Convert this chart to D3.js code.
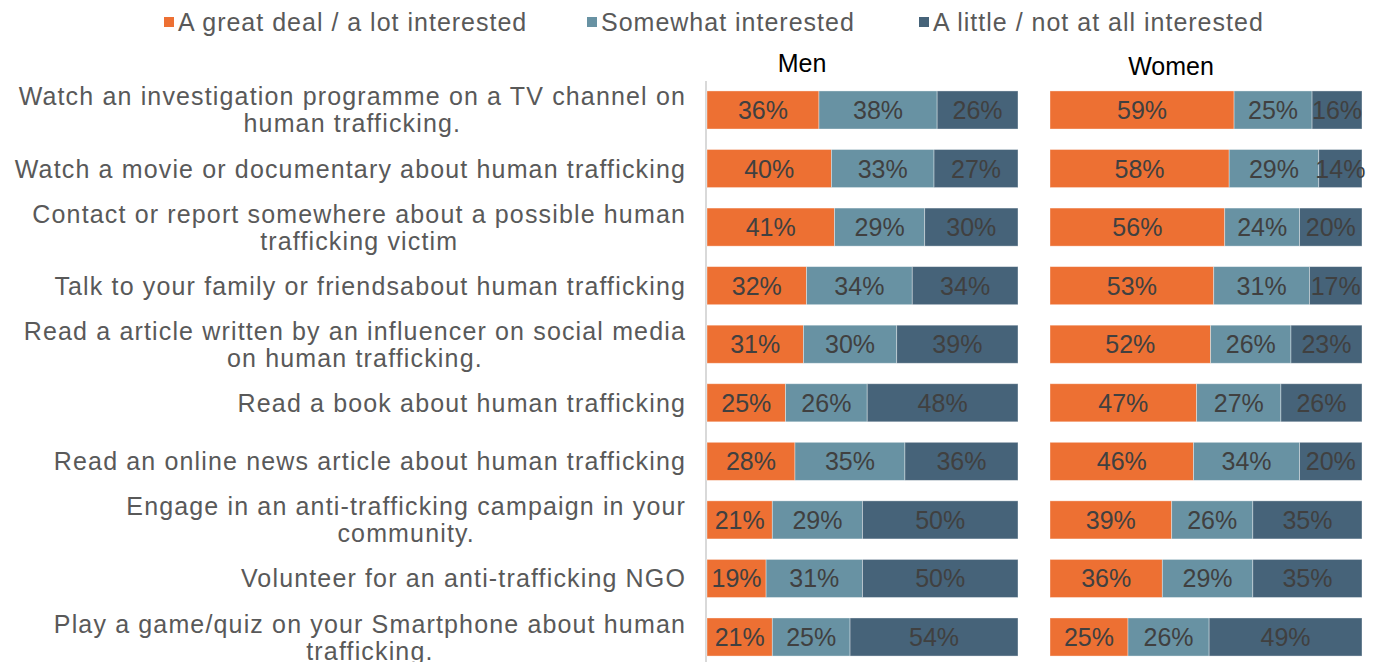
<!DOCTYPE html>
<html>
<head>
<meta charset="utf-8">
<script src="https://cdn.jsdelivr.net/npm/d3@7"></script>
<style>
  html, body { margin: 0; padding: 0; background: #fff; }
  svg { display: block; }
</style>
</head>
<body>
<svg id="chart" width="1375" height="662"></svg>
<script>
// Activities (label lines) in display order
const categories = [
  ["Watch an investigation programme on a TV channel on", "human trafficking."],
  ["Watch a movie or documentary about human trafficking"],
  ["Contact or report somewhere about a possible human", "trafficking victim"],
  ["Talk to your family or friendsabout human trafficking"],
  ["Read a article written by an influencer on social media", "on human trafficking."],
  ["Read a book about human trafficking"],
  ["Read an online news article about human trafficking"],
  ["Engage in an anti-trafficking campaign in your", "community."],
  ["Volunteer for an anti-trafficking NGO"],
  ["Play a game/quiz on your Smartphone about human", "trafficking."]
];

const seriesNames = ["A great deal / a lot interested", "Somewhat interested", "A little / not at all interested"];
const seriesColors = ["#ED7033", "#6892A3", "#466379"];

// Men: [great deal, somewhat, little/not at all] in %
const menGreat    = [36, 40, 41, 32, 31, 25, 28, 21, 19, 21];
const menSomewhat = [38, 33, 29, 34, 30, 26, 35, 29, 31, 25];
const menLittle   = [26, 27, 30, 34, 39, 48, 36, 50, 50, 54];

// Women
const womenGreat    = [59, 58, 56, 53, 52, 47, 46, 39, 36, 25];
const womenSomewhat = [25, 29, 24, 31, 26, 27, 34, 26, 29, 26];
const womenLittle   = [16, 14, 20, 17, 23, 26, 20, 35, 35, 49];

const panelTitles = ["Men", "Women"];

const svg = d3.select("#chart");
const ids = categories.map((c, i) => i);
const FONT = "'Liberation Sans', Arial, sans-serif";

const y = d3.scaleBand()
  .domain(ids)
  .range([80.7, 666.3])
  .paddingInner(0.35)
  .paddingOuter(0.175);

const keys = ["g", "s", "l"];
function rows(a, b, c) { return ids.map(i => ({ id: i, g: a[i], s: b[i], l: c[i] })); }

const panels = [
  { title: panelTitles[0], data: rows(menGreat, menSomewhat, menLittle), range: [707, 1018], titleX: 802, titleY: 72 },
  { title: panelTitles[1], data: rows(womenGreat, womenSomewhat, womenLittle), range: [1050, 1362], titleX: 1171, titleY: 75 }
];

const stack = d3.stack().keys(keys).offset(d3.stackOffsetExpand);

// Category axis line
svg.append("line")
  .attr("x1", 706).attr("x2", 706)
  .attr("y1", 81).attr("y2", 662)
  .attr("stroke", "#d9d9d9").attr("stroke-width", 2);

panels.forEach(p => {
  const x = d3.scaleLinear().domain([0, 1]).range(p.range);
  const layers = stack(p.data);
  const g = svg.append("g");

  layers.forEach((layer, li) => {
    const lg = g.append("g").attr("fill", seriesColors[li]);
    lg.selectAll("rect")
      .data(layer)
      .join("rect")
      .attr("x", d => x(d[0]))
      .attr("y", d => y(d.data.id))
      .attr("width", d => x(d[1]) - x(d[0]))
      .attr("height", y.bandwidth())
      .attr("stroke", "#ffffff")
      .attr("stroke-opacity", 0.45)
      .attr("stroke-width", 0.8);

    g.append("g").selectAll("text")
      .data(layer)
      .join("text")
      .attr("x", d => (x(d[0]) + x(d[1])) / 2)
      .attr("y", d => y(d.data.id) + y.bandwidth() / 2)
      .attr("dy", "0.36em")
      .attr("text-anchor", "middle")
      .attr("font-family", FONT)
      .attr("font-size", 25)
      .attr("fill", "#404040")
      .text(d => d.data[keys[li]] + "%");
  });

  svg.append("text")
    .attr("x", p.titleX)
    .attr("y", p.titleY)
    .attr("text-anchor", "middle")
    .attr("font-family", FONT)
    .attr("font-size", 25)
    .attr("fill", "#000")
    .text(p.title);
});

// Category labels: each block centred on its own lines, right edge at 686
const labelRight = 686;
const lineGap = 27;
ids.forEach(i => {
  const lines = categories[i];
  const cy = y(i) + y.bandwidth() / 2;
  const tg = svg.append("g");
  const texts = lines.map((ln, k) => tg.append("text")
    .attr("y", cy + (k - (lines.length - 1) / 2) * lineGap)
    .attr("dy", "0.36em")
    .attr("text-anchor", "middle")
    .attr("font-family", FONT)
    .attr("font-size", 25)
    .attr("letter-spacing", 1.15)
    .attr("fill", "#595959")
    .text(ln));
  const maxW = d3.max(texts, t => t.node().getComputedTextLength());
  texts.forEach(t => t.attr("x", labelRight - maxW / 2));
});

// Legend
const legendX = [164, 587, 919];
seriesNames.forEach((name, i) => {
  const lg = svg.append("g").attr("transform", `translate(${legendX[i]},0)`);
  lg.append("rect")
    .attr("x", 0).attr("y", 17)
    .attr("width", 10).attr("height", 10)
    .attr("fill", seriesColors[i]);
  lg.append("text")
    .attr("x", 14).attr("y", 22)
    .attr("dy", "0.36em")
    .attr("font-family", FONT)
    .attr("font-size", 25)
    .attr("letter-spacing", 1.0)
    .attr("fill", "#595959")
    .text(name);
});
</script>
</body>
</html>
